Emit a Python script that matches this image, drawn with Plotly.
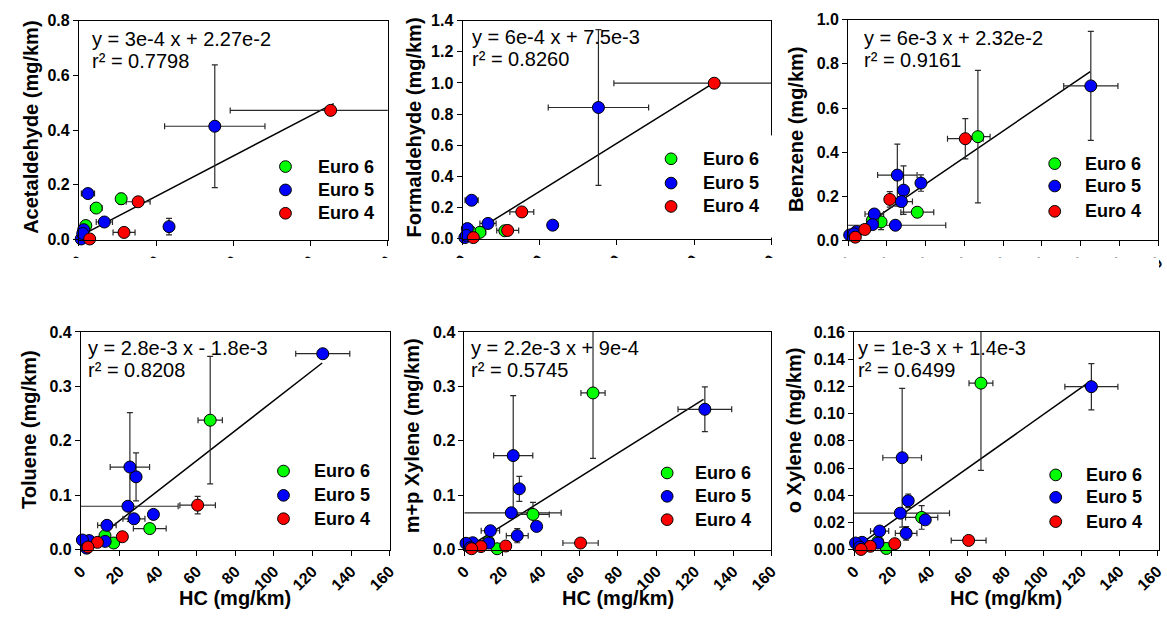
import plotly.graph_objects as go

W, H = 1167, 624
FONT = "Arial, Liberation Sans, sans-serif"

euro_order = ["Euro 6", "Euro 5", "Euro 4"]
euro_colors = {"Euro 6": "#00FF00", "Euro 5": "#0000FF", "Euro 4": "#FF0000"}

# ---------------- Aldehyde panels (top-left, top-middle) ----------------
ald_euro = ["Euro 4", "Euro 5", "Euro 5", "Euro 4", "Euro 4", "Euro 6", "Euro 5",
            "Euro 6", "Euro 5", "Euro 6", "Euro 5", "Euro 5", "Euro 4", "Euro 5"]
ald_x = [1304, 704, 467, 307, 234, 219, 132, 90, 47, 36, 25, 12, 56, 20]
ald_xerr = [520, 260, 20, 62, 57, 20, 42, 30, 34, 8, 8, 4, 5, 5]
acetaldehyde = [0.472, 0.414, 0.047, 0.138, 0.026, 0.149, 0.064, 0.115, 0.168, 0.051, 0.036, 0.002, 0.002, 0.022]
acetaldehyde_err = [0.01, 0.224, 0.03, 0.015, 0.01, 0.02, 0.01, 0.01, 0.017, 0.005, 0.005, 0.002, 0.002, 0.003]
formaldehyde = [0.998, 0.842, 0.086, 0.171, 0.052, 0.050, 0.097, 0.040, 0.246, 0.050, 0.064, 0.006, 0.006, 0.020]
formaldehyde_err = [0.01, 0.50, 0.025, 0.02, 0.01, 0.01, 0.01, 0.01, 0.03, 0.005, 0.005, 0.003, 0.003, 0.003]

# ---------------- HC panels (benzene, toluene, xylenes) ----------------
hc_euro = ["Euro 5", "Euro 6", "Euro 4", "Euro 6", "Euro 5", "Euro 5", "Euro 5", "Euro 5",
           "Euro 5", "Euro 4", "Euro 6", "Euro 5", "Euro 6", "Euro 5", "Euro 4", "Euro 5",
           "Euro 4", "Euro 5", "Euro 5"]
hc_x = [125.3, 67.0, 60.5, 35.7, 37.6, 28.6, 27.5, 25.4, 24.4, 21.5, 17.0, 13.5, 12.5, 12.6, 8.6, 4.3, 3.7, 0.8, 3.0]
hc_xerr = [14, 6.3, 9.2, 8.5, 2, 2.5, 5.7, 10.2, 26, 2, 1.5, 4.8, 1.5, 1.5, 1.5, 1, 1, 0.5, 1]
benzene = [0.700, 0.470, 0.461, 0.128, 0.260, 0.228, 0.176, 0.296, 0.069, 0.186, 0.084, 0.120, 0.091, 0.072, 0.050, 0.040, 0.015, 0.025, 0.030]
benzene_err = [0.247, 0.30, 0.091, 0.02, 0.037, 0.11, 0.02, 0.14, 0.005, 0.035, 0.035, 0.02, 0.01, 0.01, 0.01, 0.005, 0.005, 0.005, 0.005]
toluene = [0.360, 0.238, 0.082, 0.039, 0.065, 0.134, 0.057, 0.152, 0.080, 0.024, 0.0125, 0.045, 0.026, 0.0155, 0.0137, 0.017, 0.005, 0.018, 0.003]
toluene_err = [0.005, 0.117, 0.016, 0.005, 0.005, 0.044, 0.008, 0.10, 0.003, 0.003, 0.003, 0.005, 0.002, 0.002, 0.002, 0.002, 0.002, 0.002, 0.002]
mp_xylene = [0.258, 0.288, 0.0125, 0.065, 0.043, 0.112, 0.026, 0.173, 0.068, 0.007, 0.002, 0.035, 0.015, 0.0125, 0.006, 0.013, 0.002, 0.012, 0.004]
mp_xylene_err = [0.041, 0.12, 0.003, 0.022, 0.005, 0.023, 0.013, 0.11, 0.005, 0.002, 0.002, 0.004, 0.002, 0.002, 0.002, 0.002, 0.002, 0.002, 0.002]
o_xylene = [0.1198, 0.1224, 0.0069, 0.0238, 0.022, 0.036, 0.0121, 0.0676, 0.0269, 0.0045, 0.001, 0.0138, 0.006, 0.005, 0.0026, 0.0055, 0.0003, 0.005, 0.002]
o_xylene_err = [0.017, 0.064, 0.001, 0.0087, 0.002, 0.005, 0.005, 0.051, 0.002, 0.001, 0.001, 0.002, 0.001, 0.001, 0.001, 0.001, 0.001, 0.001, 0.001]

# regression lines (end points)
fit_acet_x, fit_acet_y = [20, 1320], [0.018, 0.497]
fit_form_x, fit_form_y = [20, 1310], [0.010, 1.006]
fit_benz_x, fit_benz_y = [0.5, 125], [0.020, 0.765]
fit_tol_x, fit_tol_y = [1, 125], [0.001, 0.343]
fit_mpx_x, fit_mpx_y = [1, 124.6], [0.003, 0.276]
fit_ox_x, fit_ox_y = [1, 125], [0.002, 0.124]

equations = ["y = 3e-4 x + 2.27e-2", "y = 6e-4 x + 7.5e-3", "y = 6e-3 x + 2.32e-2",
             "y = 2.8e-3 x - 1.8e-3", "y = 2.2e-3 x + 9e-4", "y = 1e-3 x + 1.4e-3"]
r_squared = ["r² = 0.7798", "r² = 0.8260", "r² = 0.9161", "r² = 0.8208", "r² = 0.5745", "r² = 0.6499"]
y_titles = ["Acetaldehyde (mg/km)", "Formaldehyde (mg/km)", "Benzene (mg/km)",
            "Toluene (mg/km)", "m+p Xylene (mg/km)", "o Xylene (mg/km)"]
x_title = "HC (mg/km)"

panels = [
    dict(euro=ald_euro, x=ald_x, xe=ald_xerr, y=acetaldehyde, ye=acetaldehyde_err, fx=fit_acet_x, fy=fit_acet_y,
         box=(69, 13, 383, 238), xr=[0, 1600], xd=400, yr=[0, 0.8], yd=0.2, yf=".1f",
         ytpos=(19.5, 123), eqpos=(80, 32, 54), leg=(279, 310, [163, 187, 211]), xt=None),
    dict(euro=ald_euro, x=ald_x, xe=ald_xerr, y=formaldehyde, ye=formaldehyde_err, fx=fit_form_x, fy=fit_form_y,
         box=(459, 13, 773, 237), xr=[0, 1600], xd=400, yr=[0, 1.4], yd=0.2, yf=".1f",
         ytpos=(409.5, 123), eqpos=(467, 30, 52), leg=(671, 701, [155, 180, 204]), xt=None),
    dict(euro=hc_euro, x=hc_x, xe=hc_xerr, y=benzene, ye=benzene_err, fx=fit_benz_x, fy=fit_benz_y,
         box=(851, 12, 1166, 239), xr=[0, 160], xd=20, yr=[0, 1.0], yd=0.2, yf=".1f",
         ytpos=(797.5, 125), eqpos=(865, 31, 53), leg=(1061, 1090, [160, 183, 209]), xt=None),
    dict(euro=hc_euro, x=hc_x, xe=hc_xerr, y=toluene, ye=toluene_err, fx=fit_tol_x, fy=fit_tol_y,
         box=(71, 333, 385, 557), xr=[0, 160], xd=20, yr=[0, 0.4], yd=0.1, yf=".1f",
         ytpos=(19, 433), eqpos=(76, 350, 372), leg=(277, 306, [476, 501, 525]), xt=(228, 607)),
    dict(euro=hc_euro, x=hc_x, xe=hc_xerr, y=mp_xylene, ye=mp_xylene_err, fx=fit_mpx_x, fy=fit_mpx_y,
         box=(461, 333, 773, 557), xr=[0, 160], xd=20, yr=[0, 0.4], yd=0.1, yf=".1f",
         ytpos=(408, 440), eqpos=(466, 350, 372), leg=(667, 693, [478, 502, 526]), xt=(617, 607)),
    dict(euro=hc_euro, x=hc_x, xe=hc_xerr, y=o_xylene, ye=o_xylene_err, fx=fit_ox_x, fy=fit_ox_y,
         box=(857, 333, 1167, 557), xr=[0, 161], xd=20, yr=[0, 0.16], yd=0.02, yf=".2f",
         ytpos=(796, 434), eqpos=(859, 350, 372), leg=(1062, 1091, [480, 503, 528]), xt=(1011, 607)),
]

fig = go.Figure()
layout = {}
annotations = []
shapes = []

def px_x(v):
    return v / W

def px_y(v):
    return 1 - v / H

for i, p in enumerate(panels, start=1):
    xa = "x" if i == 1 else f"x{i}"
    ya = "y" if i == 1 else f"y{i}"
    # regression line
    fig.add_trace(go.Scatter(x=p["fx"], y=p["fy"], mode="lines", line=dict(color="black", width=1.5),
                             xaxis=xa, yaxis=ya, showlegend=False, hoverinfo="skip"))
    # error bars (clipped to the plot area)
    for cls in euro_order:
        idx = [k for k, e in enumerate(p["euro"]) if e == cls]
        fig.add_trace(go.Scatter(
            x=[p["x"][k] for k in idx], y=[p["y"][k] for k in idx], mode="markers",
            marker=dict(size=1, color="rgba(0,0,0,0)"),
            error_x=dict(type="data", array=[p["xe"][k] for k in idx], color="#2a2a2a", thickness=1.2, width=3),
            error_y=dict(type="data", array=[p["ye"][k] for k in idx], color="#2a2a2a", thickness=1.2, width=3),
            xaxis=xa, yaxis=ya, showlegend=False, hoverinfo="skip"))
    # markers
    for cls in euro_order:
        idx = [k for k, e in enumerate(p["euro"]) if e == cls]
        fig.add_trace(go.Scatter(
            x=[p["x"][k] for k in idx], y=[p["y"][k] for k in idx], mode="markers", name=cls,
            marker=dict(size=12, color=euro_colors[cls], line=dict(color="black", width=1)),
            cliponaxis=False, xaxis=xa, yaxis=ya, showlegend=False))

    x0, y0, x1, y1 = p["box"]
    axis_common = dict(showline=True, mirror=True, linecolor="black", linewidth=1, ticks="outside",
                       ticklen=5, tickcolor="black", showgrid=False, zeroline=False,
                       tickfont=dict(family=FONT, size=16, color="black", weight="bold"))
    layout["xaxis" if i == 1 else f"xaxis{i}"] = dict(
        domain=[px_x(x0), min(1.0, px_x(x1))], range=p["xr"], dtick=p["xd"], tick0=0, tickformat="d",
        tickangle=-45, anchor=ya, **axis_common)
    layout["yaxis" if i == 1 else f"yaxis{i}"] = dict(
        domain=[px_y(y1), px_y(y0)], range=p["yr"], dtick=p["yd"], tick0=0, tickformat=p["yf"],
        anchor=xa, **axis_common)

    # y title
    annotations.append(dict(text=y_titles[i - 1], x=px_x(p["ytpos"][0]), y=px_y(p["ytpos"][1]),
                             xref="paper", yref="paper", xanchor="center", yanchor="middle",
                             textangle=-90, showarrow=False,
                             font=dict(family=FONT, size=20, color="black", weight="bold")))
    # x title
    if p["xt"] is not None:
        annotations.append(dict(text=x_title, x=px_x(p["xt"][0]), y=px_y(p["xt"][1]),
                                xref="paper", yref="paper", xanchor="center", yanchor="middle",
                                showarrow=False,
                                font=dict(family=FONT, size=20, color="black", weight="bold")))
    # equation + r2
    ex, ey1, ey2 = p["eqpos"]
    for txt, yy in ((equations[i - 1], ey1), (r_squared[i - 1], ey2)):
        annotations.append(dict(text=txt, x=px_x(ex), y=px_y(yy), xref="paper", yref="paper",
                                xanchor="left", yanchor="middle", showarrow=False,
                                font=dict(family=FONT, size=20, color="black")))
    # legend (symbols + labels)
    mx, tx, rows = p["leg"]
    r = 6
    for cls, ry in zip(euro_order, rows):
        shapes.append(dict(type="circle", xref="paper", yref="paper",
                           x0=px_x(mx - r), x1=px_x(mx + r), y0=px_y(ry + r), y1=px_y(ry - r),
                           fillcolor=euro_colors[cls], line=dict(color="black", width=1), layer="above"))
        annotations.append(dict(text=cls, x=px_x(tx), y=px_y(ry), xref="paper", yref="paper",
                                xanchor="left", yanchor="middle", showarrow=False,
                                font=dict(family=FONT, size=18, color="black", weight="bold")))

# top-row x tick labels are cut off in the original figure
shapes.append(dict(type="rect", xref="paper", yref="paper", x0=0, x1=1,
                   y0=px_y(318), y1=px_y(257), fillcolor="white", line=dict(width=0), layer="above"))
# gap in the right frame of the formaldehyde panel
shapes.append(dict(type="rect", xref="paper", yref="paper", x0=px_x(771), x1=px_x(777),
                   y0=px_y(236), y1=px_y(131), fillcolor="white", line=dict(width=0), layer="above"))

fig.update_layout(width=W, height=H, margin=dict(l=0, r=0, t=0, b=0), autosize=False,
                  paper_bgcolor="white", plot_bgcolor="white", showlegend=False,
                  annotations=annotations, shapes=shapes, **layout)

fig.write_html("out.html", config={"displayModeBar": False},
               post_script="document.body.style.margin='0';")
